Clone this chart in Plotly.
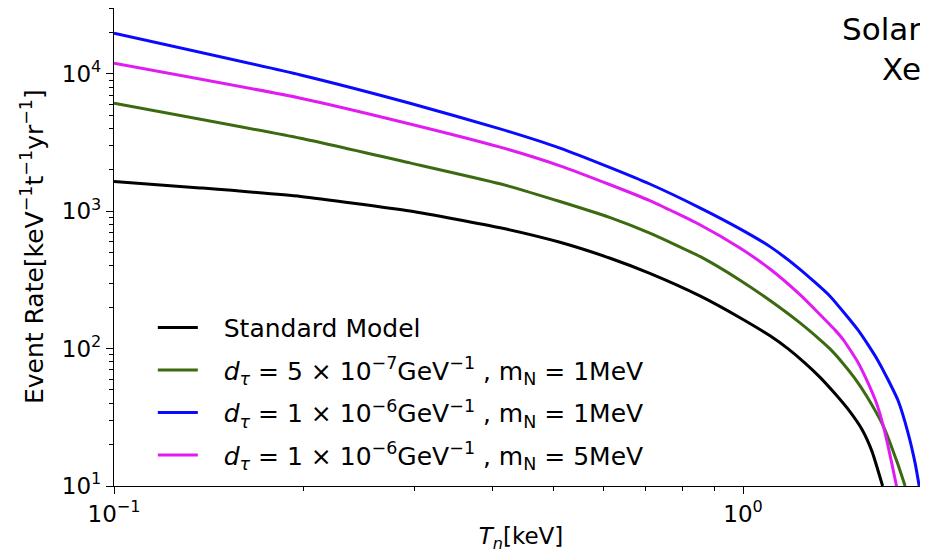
import plotly.graph_objects as go

# ---- data ----
sm_x = [0.1, 0.137, 0.198, 0.2955, 0.411, 0.5117, 0.615, 0.711, 0.854, 0.989, 1.104, 1.18, 1.255, 1.326, 1.400, 1.479, 1.546, 1.604, 1.667]
sm_y = [1650, 1480, 1283, 1005, 759, 595, 455, 353, 242, 168, 124, 99.7, 78.5, 61.8, 47.1, 34.8, 25.8, 17.8, 10]

g_x = [0.1, 0.198, 0.2955, 0.411, 0.5117, 0.615, 0.711, 0.854, 0.989, 1.104, 1.232, 1.326, 1.374, 1.44, 1.507, 1.573, 1.672, 1.759, 1.81]
g_y = [6120, 3400, 2250, 1585, 1178, 898, 693, 469, 315, 224, 154, 116, 100, 78.7, 60.5, 45, 27.2, 14.8, 10]

b_x = [0.1, 0.198, 0.2955, 0.411, 0.5117, 0.615, 0.711, 0.854, 0.989, 1.104, 1.232, 1.375, 1.523, 1.580, 1.639, 1.700, 1.764, 1.829, 1.877, 1.906]
b_y = [19800, 9830, 6120, 3980, 2885, 2080, 1580, 1060, 745, 553, 378, 241, 137, 107, 81.8, 59.6, 41.9, 24.5, 14.8, 10]

m_x = [0.1, 0.198, 0.2955, 0.411, 0.5117, 0.615, 0.711, 0.854, 0.989, 1.104, 1.232, 1.4, 1.444, 1.479, 1.525, 1.569, 1.622, 1.645, 1.672, 1.697, 1.723, 1.754]
m_y = [11960, 6660, 4325, 2930, 2143, 1560, 1195, 798, 540, 380, 247, 137, 116, 98.5, 78.7, 60.5, 42.6, 35.4, 27.2, 20.4, 14.8, 10]

pad = "\u00a0\u00a0\u2009"
names = [
    pad + "Standard Model",
    pad + "<i>d<sub>τ</sub></i> = 5 × 10<sup>−7</sup>GeV<sup>−1</sup> , m<sub>N</sub> = 1MeV",
    pad + "<i>d<sub>τ</sub></i> = 1 × 10<sup>−6</sup>GeV<sup>−1</sup> , m<sub>N</sub> = 1MeV",
    pad + "<i>d<sub>τ</sub></i> = 1 × 10<sup>−6</sup>GeV<sup>−1</sup> , m<sub>N</sub> = 5MeV",
]
colors = ["#000000", "#3b6a10", "#0a0aff", "#e01cf2"]

x_major = [0.1, 1]
x_major_text = ["10<sup>−1</sup>", "10<sup>0</sup>"]
y_major = [10, 100, 1000, 10000]
y_major_text = ["10<sup>1</sup>", "10<sup>2</sup>", "10<sup>3</sup>", "10<sup>4</sup>"]

font = "DejaVu Sans"

fig = go.Figure()
series = [(sm_x, sm_y), (g_x, g_y), (b_x, b_y), (m_x, m_y)]
for i, ((xs, ys), nm, c) in enumerate(zip(series, names, colors)):
    fig.add_trace(go.Scatter(x=xs, y=ys, mode="lines", name=nm,
                             line=dict(color=c, width=3, shape="spline", smoothing=0.5),
                             legendgroup=f"g{i}"))

x_minor = [m * 10 ** k for k in (-1, 0) for m in range(2, 10)]
y_minor = [m * 10 ** k for k in (1, 2, 3, 4) for m in range(2, 10)]

fig.update_layout(
    width=920, height=547,
    margin=dict(l=106, r=0, t=0, b=69),
    plot_bgcolor="white", paper_bgcolor="white",
    font=dict(family=font, size=23, color="black"),
    showlegend=True,
    legend=dict(x=0.0477, y=0.379, xanchor="left", yanchor="top",
                bgcolor="rgba(0,0,0,0)", font=dict(size=25, family=font),
                tracegroupgap=7, itemwidth=40),
    xaxis=dict(type="log", range=[-1, 0.2941], showgrid=False, zeroline=False,
               showline=True, linecolor="black", linewidth=1.2, mirror=True,
               ticks="outside", ticklen=7, tickwidth=1.2, tickcolor="black",
               tickmode="array", tickvals=x_major, ticktext=x_major_text,
               tickfont=dict(size=23),
               minor=dict(ticks="outside", ticklen=4, tickwidth=1, tickcolor="black",
                          tickmode="array", tickvals=x_minor, showgrid=False),
               title=dict(text="<i>T<sub>n</sub></i>[keV]", font=dict(size=23), standoff=2)),
    yaxis=dict(type="log", range=[1, 4.48], showgrid=False, zeroline=False,
               showline=True, linecolor="black", linewidth=1.2, mirror=True,
               ticks="outside", ticklen=7, tickwidth=1.2, tickcolor="black",
               tickmode="array", tickvals=y_major, ticktext=y_major_text,
               tickfont=dict(size=23),
               minor=dict(ticks="outside", ticklen=4, tickwidth=1, tickcolor="black",
                          tickmode="array", tickvals=y_minor, showgrid=False)),
)

# y-axis title placed as rotated text for exact position
fig.add_annotation(x=-0.1007, y=0.5, xref="paper", yref="paper", xanchor="center", yanchor="middle",
                   text="Event Rate[keV<sup>−1</sup>t<sup>−1</sup>yr<sup>−1</sup>]", textangle=-90,
                   showarrow=False, font=dict(size=25, family=font, color="black"))

fig.add_annotation(x=0.993, y=0.995, xref="paper", yref="paper", xanchor="right", yanchor="top",
                   text="Solar<br>Xe", showarrow=False, align="right", borderpad=0,
                   font=dict(size=31, family=font, color="black"))

fig.write_html("out.html")
